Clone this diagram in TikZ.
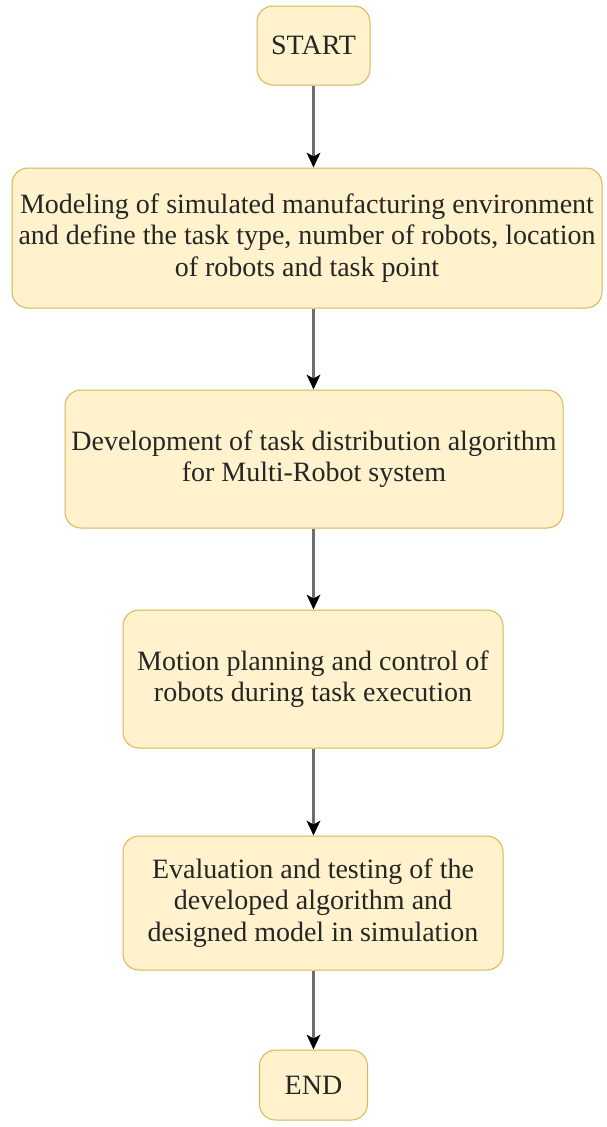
\documentclass[tikz,border=0pt]{standalone}
\usepackage{fontspec}
\setmainfont{Liberation Serif}
\usetikzlibrary{arrows.meta}
\definecolor{boxfill}{HTML}{FFF2CC}
\definecolor{boxline}{HTML}{D6B656}
\definecolor{flowline}{HTML}{6E6E6E}
\definecolor{boxtext}{HTML}{262626}
\tikzset{
  x=1pt, y=-1pt,
  stepbox/.style={draw=boxline, fill=boxfill, line width=1pt, rounded corners=16pt,
    align=center, inner sep=0pt, text=boxtext,
    font=\fontsize{28}{31.5}\selectfont},
  flow/.style={draw=flowline, line width=2.4pt,
    -{Stealth[length=15pt, width=14pt, inset=4pt, line width=0pt, fill=black, color=black]}}
}
\begin{document}
\begin{tikzpicture}
  \useasboundingbox (0,0) rectangle (606,1127);
  \fill[white] (0,0) rectangle (606,1127);

  \node[stepbox, minimum width=113pt, minimum height=79pt] (start) at (313.5,45.5) {START};
  \node[stepbox, minimum width=590pt, minimum height=140pt] (model) at (307,238)
    {Modeling of simulated manufacturing environment\\
     and define the task type, number of robots, location\\
     of robots and task point};
  \node[stepbox, minimum width=498pt, minimum height=138pt] (algo) at (314,459)
    {Development of task distribution algorithm\\
     for Multi-Robot system};
  \node[stepbox, minimum width=380pt, minimum height=138pt] (motion) at (313,679)
    {Motion planning and control of\\
     robots during task execution};
  \node[stepbox, minimum width=380pt, minimum height=134pt] (eval) at (313,903)
    {Evaluation and testing of the\\
     developed algorithm and\\
     designed model in simulation};
  \node[stepbox, minimum width=108pt, minimum height=70pt] (end) at (313.5,1085) {END};

  \draw[flow] (start.south) -- (start.south |- model.north);
  \draw[flow] (start.south |- model.south) -- (start.south |- algo.north);
  \draw[flow] (start.south |- algo.south) -- (start.south |- motion.north);
  \draw[flow] (start.south |- motion.south) -- (start.south |- eval.north);
  \draw[flow] (start.south |- eval.south) -- (start.south |- end.north);
\end{tikzpicture}
\end{document}
